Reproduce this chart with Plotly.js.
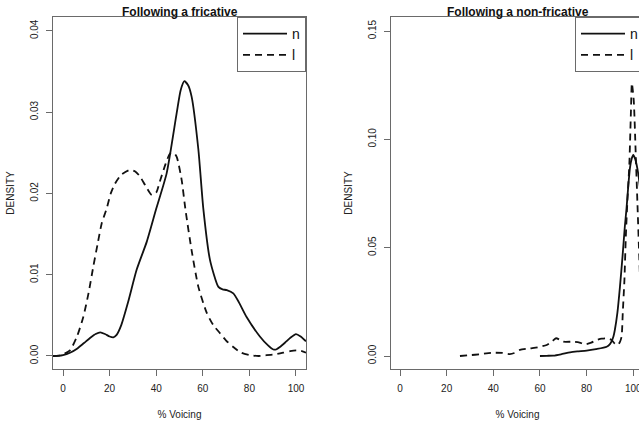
<!DOCTYPE html>
<html>
<head>
<meta charset="utf-8">
<script src="https://cdn.plot.ly/plotly-3.0.1.min.js"></script>
<style>
html, body { margin: 0; padding: 0; overflow: hidden; background: #fff; }
#chart { width: 660px; height: 421px; }
</style>
</head>
<body>
<div id="chart"></div>
<script>
// ---- Data ----
const fricN_x = [-4.3, -2, 0, 3, 6, 9, 12, 14, 16, 18, 20, 21.6, 23, 25, 28, 31.6, 36, 40, 44.5, 48.8, 50.5, 52.1, 53.7, 55.2, 58.1, 60.2, 63.1, 66.7, 68.5, 70.3, 73.1, 75.5, 78.8, 84.5, 88, 90.3, 91.5, 93.1, 95.5, 97.4, 100, 102, 104.3];
const fricN_y = [0, 0.00002, 0.0001, 0.0004, 0.0009, 0.0016, 0.0023, 0.0027, 0.0029, 0.0027, 0.0024, 0.0023, 0.0026, 0.0038, 0.0067, 0.0106, 0.0141, 0.0181, 0.0225, 0.0299, 0.0327, 0.0338, 0.0333, 0.0319, 0.0254, 0.0182, 0.0118, 0.0085, 0.0082, 0.0081, 0.0077, 0.0066, 0.0048, 0.0024, 0.0013, 0.0008, 0.0008, 0.0011, 0.0017, 0.0022, 0.0027, 0.0024, 0.0018];

const fricL_x = [-4.3, -2, 0, 3, 6, 8.7, 11, 13, 14.8, 16.6, 18.8, 20.5, 22.3, 25, 28.8, 31, 33, 35.5, 38.1, 40, 41.6, 44, 45.9, 47.5, 48.8, 50.9, 52.6, 55.2, 58.1, 61.7, 64.5, 67.4, 70, 73.1, 76.5, 80.3, 84, 87.4, 91, 94.5, 97.5, 100.3, 102.5, 104.3];
const fricL_y = [0, 0.00005, 0.0002, 0.0007, 0.0024, 0.0048, 0.0078, 0.011, 0.0137, 0.0163, 0.0182, 0.0200, 0.0212, 0.0223, 0.0229, 0.0227, 0.0221, 0.0209, 0.0198, 0.0201, 0.0215, 0.0236, 0.0249, 0.0250, 0.0245, 0.0217, 0.0179, 0.0130, 0.0085, 0.0053, 0.0038, 0.0028, 0.0019, 0.0011, 0.0004, 0.0001, 0.0, 0.0001, 0.0002, 0.0004, 0.0006, 0.0007, 0.0006, 0.0004];

const nonN_x = [60, 63, 65.7, 69, 72.9, 76, 80, 84, 88.6, 90, 90.7, 91.5, 92.1, 93.2, 94.3, 95.4, 96.4, 97.1, 97.9, 98.6, 99.3, 100, 100.8, 102.1, 103.5, 105];
const nonN_y = [0, 0.0001, 0.0002, 0.0008, 0.0017, 0.0021, 0.0025, 0.0032, 0.0043, 0.0055, 0.0068, 0.009, 0.012, 0.020, 0.032, 0.046, 0.060, 0.068, 0.079, 0.087, 0.091, 0.0928, 0.091, 0.0844, 0.072, 0.058];

const nonL_x = [25.7, 30, 34.3, 37, 40, 44, 47.1, 49, 51.4, 55.7, 59, 62.9, 65, 66.9, 68.5, 70, 74.3, 77, 79.3, 82, 84.3, 86.5, 88.6, 90.7, 92, 93.3, 94.3, 95, 95.5, 96.2, 96.8, 97.5, 98.3, 99.0, 99.4, 100.2, 101, 101.8, 102.6, 103.5, 104.5];
const nonL_y = [0, 0.0004, 0.0008, 0.0012, 0.0015, 0.0014, 0.0009, 0.0014, 0.0028, 0.0035, 0.0040, 0.0051, 0.0066, 0.0082, 0.0075, 0.0066, 0.0066, 0.0062, 0.0054, 0.0062, 0.0074, 0.0080, 0.0082, 0.0074, 0.0058, 0.0050, 0.0065, 0.0090, 0.020, 0.035, 0.055, 0.072, 0.088, 0.113, 0.126, 0.118, 0.095, 0.070, 0.045, 0.020, 0.008];

const xTicks = [0, 20, 40, 60, 80, 100];
const yTicksLeft = [0, 0.01, 0.02, 0.03, 0.04];
const yTicksRight = [0, 0.05, 0.10, 0.15];
const seriesNames = ['n', 'l'];
const panelTitles = ['Following a fricative', 'Following a non-fricative'];

// ---- Styles ----
const FONT = 'Liberation Sans, Arial, Helvetica, sans-serif';
const AXC = '#6a6a6a';
const solid = {color: '#111', width: 1.8, shape: 'spline', smoothing: 0.6};
const dashed = {color: '#111', width: 1.8, dash: '7px,5px', shape: 'spline', smoothing: 0.6};

const traces = [
  {x: fricN_x, y: fricN_y, mode: 'lines', name: seriesNames[0], line: solid, xaxis: 'x', yaxis: 'y', legend: 'legend'},
  {x: fricL_x, y: fricL_y, mode: 'lines', name: seriesNames[1], line: dashed, xaxis: 'x', yaxis: 'y', legend: 'legend'},
  {x: nonN_x, y: nonN_y, mode: 'lines', name: seriesNames[0], line: solid, xaxis: 'x2', yaxis: 'y2', legend: 'legend2'},
  {x: nonL_x, y: nonL_y, mode: 'lines', name: seriesNames[1], line: dashed, xaxis: 'x2', yaxis: 'y2', legend: 'legend2'}
];

function xa(domain, range) {
  return {
    domain: domain, range: range, tickvals: xTicks, ticks: 'outside', ticklen: 6,
    tickcolor: AXC, showline: true, mirror: true, linecolor: AXC, linewidth: 1,
    showgrid: false, zeroline: false, ticklabelstandoff: 4,
    tickfont: {family: FONT, size: 10, color: '#222'},
    title: {text: '% Voicing', font: {family: FONT, size: 10, color: '#222'}, standoff: 17}
  };
}
function ya(range, ticks, anchor) {
  return {
    range: range, tickvals: ticks, tickformat: '.2f', ticks: 'outside', ticklen: 6,
    tickcolor: AXC, showline: true, mirror: true, linecolor: AXC, linewidth: 1,
    showgrid: false, zeroline: false, tickangle: -90, anchor: anchor, ticklabelstandoff: 4,
    tickfont: {family: FONT, size: 10, color: '#222'},
    title: {text: 'DENSITY', font: {family: FONT, size: 10, color: '#222'}, standoff: 12}
  };
}

const legendStyle = (x) => ({
  x: x, xanchor: 'right', y: 1, yanchor: 'top', bgcolor: '#fff',
  bordercolor: AXC, borderwidth: 1, font: {family: FONT, size: 14, color: '#111'},
  itemwidth: 44, tracegroupgap: 0
});

const W = 660, L = 53, R = 16;
const PW = W - L - R;
const layout = {
  width: W, height: 421,
  margin: {l: L, r: R, t: 17, b: 52},
  paper_bgcolor: '#fff', plot_bgcolor: '#fff',
  showlegend: true,
  xaxis: xa([0, 253 / PW], [-4.3, 104.3]),
  yaxis: ya([-0.0016, 0.0417], yTicksLeft, 'x'),
  xaxis2: Object.assign(xa([338 / PW, 1], [-3.86, 104.6]), {anchor: 'y2'}),
  yaxis2: ya([-0.006, 0.1565], yTicksRight, 'x2'),
  legend: legendStyle(253 / PW),
  legend2: legendStyle(1),
  annotations: [
    {text: '<b>' + panelTitles[0] + '</b>', xref: 'paper', yref: 'paper', x: 126.5 / PW, xanchor: 'center', y: 1, yanchor: 'bottom', yshift: -4, showarrow: false, font: {family: FONT, size: 12, color: '#111'}},
    {text: '<b>' + panelTitles[1] + '</b>', xref: 'paper', yref: 'paper', x: (338 + 126.5) / PW, xanchor: 'center', y: 1, yanchor: 'bottom', yshift: -4, showarrow: false, font: {family: FONT, size: 12, color: '#111'}}
  ]
};

Plotly.newPlot('chart', traces, layout, {displayModeBar: false, staticPlot: true});
</script>
</body>
</html>
